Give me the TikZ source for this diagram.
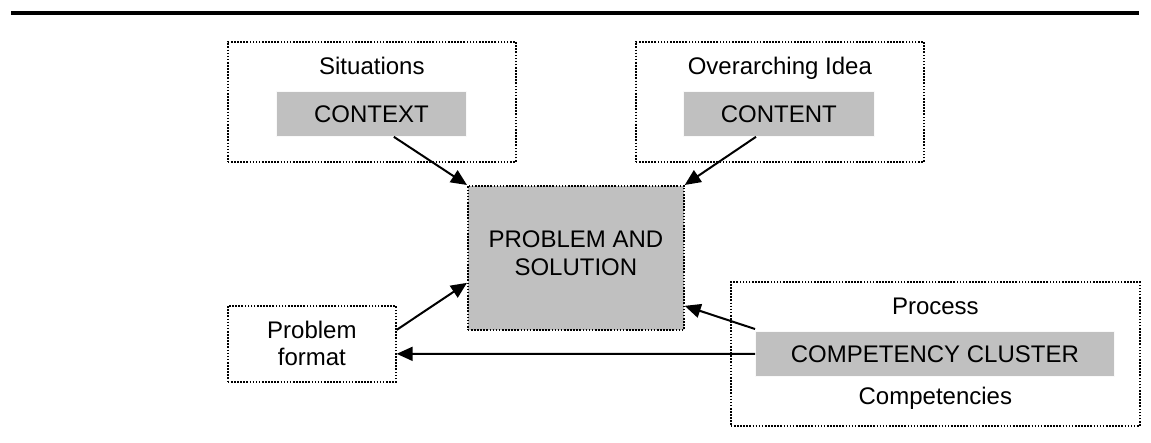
\documentclass[tikz,border=0pt]{standalone}
\usepackage{fontspec}
\setmainfont{Liberation Sans}
\usetikzlibrary{arrows.meta}
\definecolor{boxgray}{RGB}{192,192,192}
\begin{document}
\begin{tikzpicture}[x=1pt,y=-1pt,
  font=\fontsize{24}{28}\selectfont,
  frame/.style={draw=black, line width=1.7pt, dash pattern=on 1.6pt off 1.5pt,
    inner sep=0pt, anchor=north west},
  tag/.style={fill=boxgray, draw=white!90!boxgray, line width=0.8pt,
    inner sep=0pt, anchor=north west},
  lbl/.style={anchor=base, inner sep=0pt},
  arr/.style={line width=2pt, -{Triangle[length=16pt,width=14pt]}}
]
\useasboundingbox (0,0) rectangle (1151,443);

% heavy rule across the top
\fill[black] (11,11) rectangle (1139,15.5);

% context group
\node[frame, minimum width=288pt, minimum height=120pt] (sit) at (227,41) {};
\node[lbl] (sitlbl) at ([yshift=-34pt]sit.north) {Situations};
\node[tag, minimum width=190pt, minimum height=45pt] (ctx) at (276,91) {CONTEXT};

% content group
\node[frame, minimum width=288pt, minimum height=120pt] (ovr) at (635,41) {};
\node[lbl] (ovrlbl) at ([yshift=-34pt]ovr.north) {Overarching Idea};
\node[tag, minimum width=191pt, minimum height=45pt] (cnt) at (683,91) {CONTENT};

% central box and its two-line caption, set a little above centre
\node[frame, fill=boxgray, minimum width=216pt, minimum height=144pt] (prob) at (467,185) {};
\node[align=center, inner sep=0pt] (probtxt) at ([yshift=5pt]prob.center) {PROBLEM AND\\SOLUTION};

% problem format
\node[frame, minimum width=168pt, minimum height=76pt, align=center,
  font=\fontsize{24}{27}\selectfont] (fmt) at (227,305) {Problem\\format};

% process group
\node[frame, minimum width=409pt, minimum height=144pt] (proc) at (730,281) {};
\node[lbl] (proclbl) at ([yshift=-34pt]proc.north) {Process};
\node[tag, minimum width=359pt, minimum height=45pt] (cc) at (755,331) {COMPETENCY CLUSTER};
\node[lbl] (complbl) at ([yshift=22pt]proc.south) {Competencies};

% connectors
\draw[arr] ([xshift=-73pt]ctx.south east) -- (prob.north west);
\draw[arr] ([xshift=73pt]cnt.south west) -- (prob.north east);
\draw[arr] ([yshift=14pt]fmt.east) -- ([yshift=-25pt]prob.west);
\draw[arr] ([yshift=2pt]cc.north west) -- ([yshift=-48pt]prob.east);
\draw[arr] (cc.west) -- ([yshift=-10pt]fmt.east);
\end{tikzpicture}
\end{document}
